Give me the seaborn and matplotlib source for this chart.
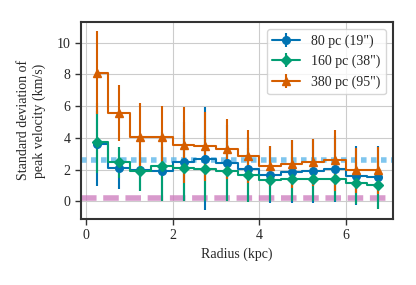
import matplotlib
matplotlib.use("Agg")
import matplotlib.pyplot as plt
import seaborn as sns

radius = [0.25, 0.75, 1.25, 1.75, 2.25, 2.75, 3.25, 3.75, 4.25, 4.75, 5.25, 5.75, 6.25, 6.75]

sd_80 = [3.6, 2.1, 1.95, 1.9, 2.5, 2.7, 2.4, 2.05, 1.68, 1.88, 1.9, 2.05, 1.62, 1.52]
err_80 = [2.6, 1.3, 1.3, 1.5, 2.5, 3.25, 2.4, 2.0, 1.78, 2.0, 2.0, 2.1, 1.85, 2.0]

sd_160 = [3.73, 2.45, 1.9, 2.2, 2.1, 2.05, 1.9, 1.68, 1.32, 1.4, 1.4, 1.4, 1.15, 1.05]
err_160 = [1.95, 1.0, 1.22, 2.2, 2.1, 2.05, 1.9, 1.7, 1.3, 1.4, 1.4, 1.4, 1.3, 1.5]

sd_380 = [8.1, 5.56, 4.05, 4.07, 3.57, 3.46, 3.3, 2.83, 2.2, 2.37, 2.45, 2.58, 1.95, 1.95]
err_380 = [2.6, 1.78, 2.12, 1.95, 2.4, 2.15, 1.9, 1.67, 1.26, 1.5, 1.45, 1.92, 1.41, 1.5]

labels = ['80 pc (19")', '160 pc (38")', '380 pc (95")']
noise_80 = 2.62
noise_floor = 0.21

sns.set_style("ticks")
plt.rcParams['font.family'] = ['Liberation Serif', 'DejaVu Serif']
plt.rcParams['font.size'] = 10

pal = sns.color_palette("colorblind")

fig = plt.figure(figsize=(4.16, 2.85), dpi=100)
ax = fig.add_axes([0.195, 0.232, 0.75, 0.691])
ax.grid(True, color="#cccccc", linewidth=0.8)
ax.set_axisbelow(True)

# reference levels
ax.axhline(noise_80, color=pal[9], linestyle=(0, (1, 0.8)), linewidth=4,
           alpha=0.75, zorder=1)
ax.axhline(noise_floor, color=pal[4], linestyle=(0, (2.8, 1.2)), linewidth=4,
           alpha=0.75, zorder=1)

series = [(sd_80, err_80, pal[0], "o"), (sd_160, err_160, pal[2], "D"),
          (sd_380, err_380, pal[3], "^")]
for (vals, errs, col, mk), lab in zip(series, labels):
    ax.errorbar(radius, vals, yerr=errs, color=col, marker=mk, markersize=5.5,
                drawstyle="steps-mid", linewidth=1.5, elinewidth=1.5,
                label=lab, zorder=3)

ax.set_xlim(-0.12, 7.1)
ax.set_ylim(-1.1, 11.3)
ax.set_xticks([0, 2, 4, 6])
ax.set_yticks([0, 2, 4, 6, 8, 10])
ax.set_xlabel("Radius (kpc)")
ax.set_ylabel("Standard deviation of\npeak velocity (km/s)", labelpad=8)
for s in ax.spines.values():
    s.set_color("#333333")
    s.set_linewidth(1.5)
ax.tick_params(length=4, width=1, color="#333333")

ax.legend(loc="upper right", frameon=True, fontsize=10)

fig.savefig("out.png", dpi=100)
